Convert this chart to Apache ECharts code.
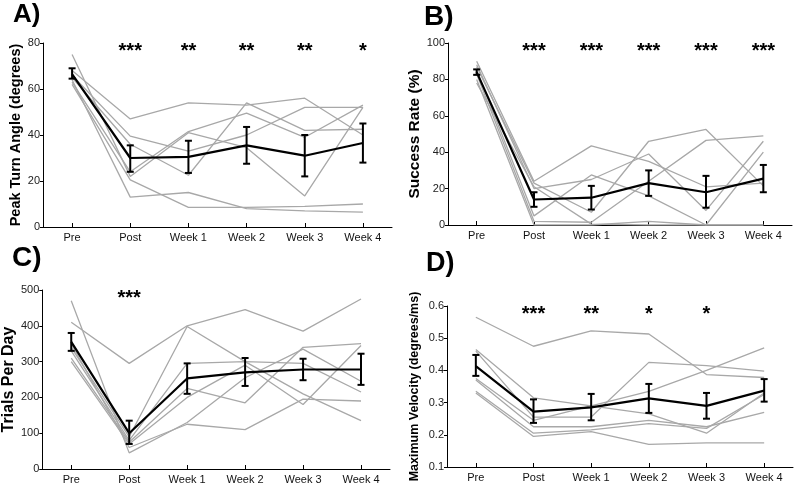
<!DOCTYPE html>
<html>
<head>
<meta charset="utf-8">
<script src="https://cdn.jsdelivr.net/npm/echarts@6/dist/echarts.min.js"></script>
<style>
html,body{margin:0;padding:0;background:#fff;}
#chart{width:800px;height:485px;}
</style>
</head>
<body>
<div id="chart"></div>
<script>
// ---------- DATA ----------
const categories = ['Pre', 'Post', 'Week 1', 'Week 2', 'Week 3', 'Week 4'];

// Panel A: Peak Turn Angle (degrees)
const subjectsA = [
  [68, 47, 54, 53, 56, 40],
  [66, 39.5, 33, 40, 52, 52],
  [65, 36, 22.5, 54, 42, 42.5],
  [63, 24, 41.5, 49.5, 39, 53],
  [75, 22, 41, 34.5, 13.5, 52],
  [62, 20.5, 8.5, 8.5, 9, 10],
  [64, 13, 15, 8, 7, 6.5]
];
const meanA = [66.5, 30, 30.5, 35.5, 31, 36.5];
const upperA = [69, 35.5, 37.5, 43.5, 40, 45];
const lowerA = [64.5, 24, 23.5, 27.5, 22, 28];
const starsA = ['', '***', '**', '**', '**', '*'];

// Panel B: Success Rate (%)
const subjectsB = [
  [90, 24, 43.5, 35, 21, 23],
  [88, 20, 25, 39, 8, 46],
  [87, 23, 7, 46, 52.5, 21.5],
  [85, 5, 27.5, 16, 0, 40],
  [83, 2, 1.5, 24, 46.5, 49],
  [80, 0, 0, 2, 0, 0],
  [78, 21, 0.5, 0, 0, 0]
];
const meanB = [84, 14, 15, 23, 18, 25.5];
const upperB = [85.5, 18, 21.5, 30, 27, 33];
const lowerB = [82.5, 10, 8.5, 16, 9.5, 18];
const starsB = ['', '***', '***', '***', '***', '***'];

// Panel C: Trials Per Day
const subjectsC = [
  [410, 295, 400, 445, 385, 475],
  [470, 45, 130, 255, 335, 245],
  [340, 90, 398, 300, 210, 135],
  [330, 80, 295, 300, 295, 215],
  [310, 75, 225, 185, 340, 350],
  [300, 70, 200, 290, 180, 345],
  [350, 60, 125, 110, 195, 190]
];
const meanC = [355, 100, 253, 270, 278, 278];
const upperC = [380, 135, 295, 310, 308, 322];
const lowerC = [330, 70, 210, 232, 248, 235];
const starsC = ['', '***', '', '', '', ''];

// Panel D: Maximum Velocity (degrees/ms)
const subjectsD = [
  [0.565, 0.475, 0.523, 0.513, 0.387, 0.378],
  [0.465, 0.315, 0.29, 0.265, 0.205, 0.33],
  [0.46, 0.255, 0.255, 0.425, 0.415, 0.398],
  [0.375, 0.245, 0.29, 0.335, 0.4, 0.47],
  [0.37, 0.225, 0.225, 0.245, 0.225, 0.27],
  [0.335, 0.205, 0.215, 0.235, 0.22, 0.325],
  [0.33, 0.195, 0.21, 0.17, 0.175, 0.175]
];
const meanD = [0.413, 0.272, 0.285, 0.313, 0.29, 0.337];
const upperD = [0.448, 0.31, 0.327, 0.358, 0.33, 0.373];
const lowerD = [0.383, 0.237, 0.245, 0.268, 0.25, 0.303];
const starsD = ['', '***', '**', '*', '*', ''];

// ---------- CONFIG ----------
const FONT = '"Liberation Sans", Arial, Helvetica, sans-serif';
const panels = [
  { letter: 'A)', subj: subjectsA, mean: meanA, up: upperA, lo: lowerA, stars: starsA,
    name: 'Peak Turn Angle (degrees)', min: 0, max: 80, interval: 20, dec: 0,
    grid: { left: 43, top: 43, width: 349, height: 184 }, nameSize: 14.5, nameGap: 19,
    title: { left: 13, top: 2, size: 26 } },
  { letter: 'B)', subj: subjectsB, mean: meanB, up: upperB, lo: lowerB, stars: starsB,
    name: 'Success Rate (%)', min: 0, max: 100, interval: 20, dec: 0,
    grid: { left: 448, top: 43, width: 344, height: 182 }, nameSize: 15.5, nameGap: 24,
    title: { left: 424, top: 3, size: 28 } },
  { letter: 'C)', subj: subjectsC, mean: meanC, up: upperC, lo: lowerC, stars: starsC,
    name: 'Trials Per Day', min: 0, max: 500, interval: 100, dec: 0,
    grid: { left: 41, top: 290, width: 349, height: 180 }, nameSize: 16, nameGap: 23,
    title: { left: 12, top: 244, size: 28 } },
  { letter: 'D)', subj: subjectsD, mean: meanD, up: upperD, lo: lowerD, stars: starsD,
    name: 'Maximum Velocity (degrees/ms)', min: 0.1, max: 0.6, interval: 0.1, dec: 1,
    grid: { left: 447, top: 306, width: 346, height: 161 }, nameSize: 12.5, nameGap: 26,
    title: { left: 426, top: 250, size: 27 } }
];

const option = {
  animation: false,
  backgroundColor: '#fff',
  textStyle: { fontFamily: FONT },
  title: [], grid: [], xAxis: [], yAxis: [], series: []
};

panels.forEach((p, gi) => {
  option.title.push({
    text: p.letter, left: p.title.left, top: p.title.top, padding: 0,
    textStyle: { fontFamily: FONT, fontSize: p.title.size, fontWeight: 'bold', color: '#000' }
  });
  option.grid.push(Object.assign({ containLabel: false }, p.grid));
  option.xAxis.push({
    type: 'category', gridIndex: gi, data: categories, boundaryGap: true,
    axisLine: { show: true, lineStyle: { color: '#000', width: 1 } },
    axisTick: { show: true, inside: true, alignWithLabel: true, length: 4, lineStyle: { color: '#000' } },
    axisLabel: { fontFamily: FONT, fontSize: 11, color: '#111', margin: 5 },
    splitLine: { show: false }
  });
  option.yAxis.push({
    type: 'value', gridIndex: gi, min: p.min, max: p.max, interval: p.interval,
    name: p.name, nameLocation: 'middle', nameGap: p.nameGap,
    nameTextStyle: { fontFamily: FONT, fontSize: p.nameSize, fontWeight: 'bold', color: '#000' },
    axisLine: { show: true, lineStyle: { color: '#000', width: 1 } },
    axisTick: { show: true, inside: false, length: 3, lineStyle: { color: '#000' } },
    axisLabel: { fontFamily: FONT, fontSize: 11, color: '#222', margin: 3,
      formatter: v => Number(v).toFixed(p.dec) },
    splitLine: { show: false }
  });
  // individual subjects
  p.subj.forEach(s => {
    option.series.push({
      type: 'line', xAxisIndex: gi, yAxisIndex: gi, data: s, symbol: 'none',
      lineStyle: { color: '#a8a8a8', width: 1.3 }, z: 1, silent: true
    });
  });
  // mean
  option.series.push({
    type: 'line', xAxisIndex: gi, yAxisIndex: gi, data: p.mean, symbol: 'none',
    lineStyle: { color: '#000', width: 2.2 }, z: 3, silent: true
  });
  // error bars
  option.series.push({
    type: 'custom', xAxisIndex: gi, yAxisIndex: gi, z: 4, silent: true,
    data: p.mean.map((m, i) => [i, p.lo[i], p.up[i]]),
    renderItem: (params, api) => {
      const top = api.coord([api.value(0), api.value(2)]);
      const bot = api.coord([api.value(0), api.value(1)]);
      const w = 3.5;
      const st = { stroke: '#000', lineWidth: 2 };
      return { type: 'group', children: [
        { type: 'line', shape: { x1: top[0], y1: top[1], x2: bot[0], y2: bot[1] }, style: st },
        { type: 'line', shape: { x1: top[0] - w, y1: top[1], x2: top[0] + w, y2: top[1] }, style: st },
        { type: 'line', shape: { x1: bot[0] - w, y1: bot[1], x2: bot[0] + w, y2: bot[1] }, style: st }
      ] };
    }
  });
  // significance stars
  option.series.push({
    type: 'custom', xAxisIndex: gi, yAxisIndex: gi, z: 5, silent: true,
    data: p.stars.map((s, i) => [i, p.max, s]),
    renderItem: (params, api) => {
      const pt = api.coord([api.value(0), api.value(1)]);
      const txt = p.stars[params.dataIndex];
      return { type: 'text', x: pt[0], y: pt[1] - 1.5,
        style: { text: txt, textAlign: 'center', textVerticalAlign: 'top',
          font: 'bold 20px ' + FONT, fill: '#000' } };
    }
  });
});

const chart = echarts.init(document.getElementById('chart'), null, { renderer: 'canvas' });
chart.setOption(option);
</script>
</body>
</html>
